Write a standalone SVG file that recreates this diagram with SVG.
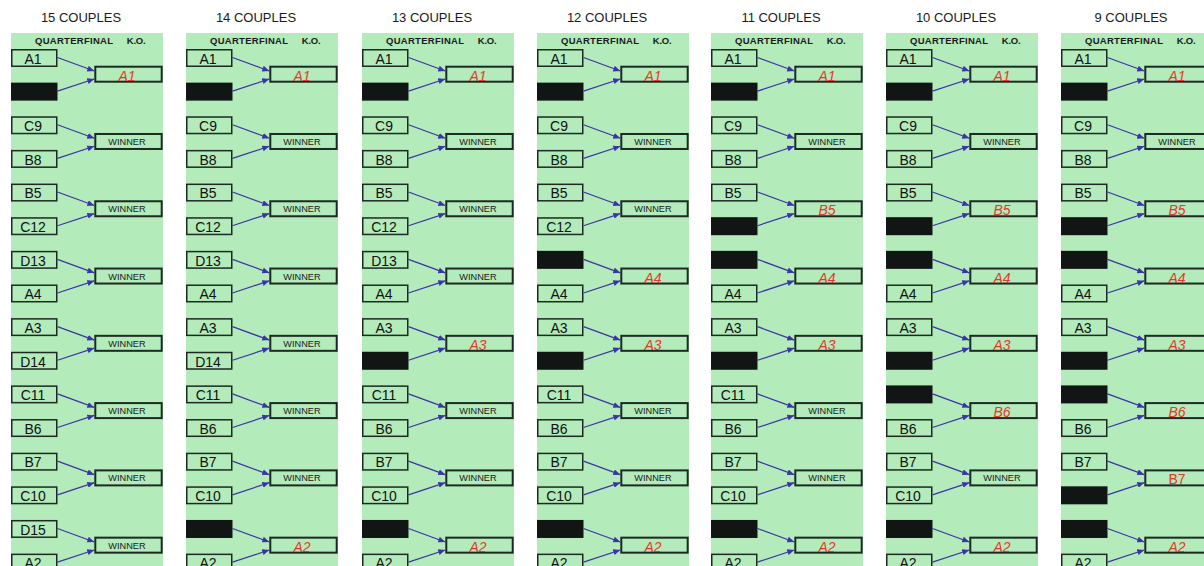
<svg xmlns="http://www.w3.org/2000/svg" width="1204" height="566" viewBox="0 0 1204 566">
<style>
.bg{fill:#ffffff}
.panel{fill:#b3ebba}
.slot{fill:#b3ebba;stroke:#1c2a22;stroke-width:1.5}
.bye{fill:#111614;stroke:#111614;stroke-width:1.5}
.res{fill:#b3ebba;stroke:#1c2a22;stroke-width:2}
.title{font-family:"Liberation Sans",Arial,sans-serif;font-size:13px;fill:#1a1a1a;text-anchor:middle}
.hdr{font-family:"Liberation Sans",Arial,sans-serif;font-size:9.5px;font-weight:bold;fill:#1a1a1a}
.lbl{font-family:"Liberation Sans",Arial,sans-serif;font-size:14px;fill:#111;text-anchor:middle}
.red{font-family:"Liberation Sans",Arial,sans-serif;font-size:14px;font-style:italic;fill:#e5372b;text-anchor:middle}
.redu{font-family:"Liberation Sans",Arial,sans-serif;font-size:14px;fill:#e5372b;text-anchor:middle}
.win{font-family:"Liberation Sans",Arial,sans-serif;font-size:9.2px;fill:#1a1a1a;text-anchor:middle}
.link{stroke:#3b33a8;stroke-width:1.2;fill:none;marker-end:url(#ah)}
</style>
<defs>
<marker id="ah" markerUnits="userSpaceOnUse" markerWidth="8" markerHeight="6" refX="7" refY="3" orient="auto"><path d="M0,0 L7,3 L0,6 z" fill="#3b33a8"/></marker>
</defs>
<rect class="bg" x="0" y="0" width="1204" height="566"/>

<!-- Column 15 -->
<g id="col15" transform="translate(11,0)">
<rect class="panel" x="0" y="33" width="152" height="540"/>
<text class="title" x="70" y="21.7">15 COUPLES</text>
<text class="hdr" x="24" y="44.3" textLength="78" lengthAdjust="spacing">QUARTERFINAL</text>
<text class="hdr" x="115.7" y="44.3" textLength="19" lengthAdjust="spacing">K.O.</text>
<g id="c15-L0"><rect class="slot" x="0.75" y="49.75" width="45" height="16.5"/><text class="lbl" x="22" y="63.8">A1</text></g>
<g id="c15-L1"><rect class="bye" x="0.75" y="83.39" width="45" height="16.5"/></g>
<g id="c15-L2"><rect class="slot" x="0.75" y="117.03" width="45" height="16.5"/><text class="lbl" x="22" y="131.08">C9</text></g>
<g id="c15-L3"><rect class="slot" x="0.75" y="150.67" width="45" height="16.5"/><text class="lbl" x="22" y="164.72">B8</text></g>
<g id="c15-L4"><rect class="slot" x="0.75" y="184.31" width="45" height="16.5"/><text class="lbl" x="22" y="198.36">B5</text></g>
<g id="c15-L5"><rect class="slot" x="0.75" y="217.95" width="45" height="16.5"/><text class="lbl" x="22" y="232">C12</text></g>
<g id="c15-L6"><rect class="slot" x="0.75" y="251.59" width="45" height="16.5"/><text class="lbl" x="22" y="265.64">D13</text></g>
<g id="c15-L7"><rect class="slot" x="0.75" y="285.23" width="45" height="16.5"/><text class="lbl" x="22" y="299.28">A4</text></g>
<g id="c15-L8"><rect class="slot" x="0.75" y="318.87" width="45" height="16.5"/><text class="lbl" x="22" y="332.92">A3</text></g>
<g id="c15-L9"><rect class="slot" x="0.75" y="352.51" width="45" height="16.5"/><text class="lbl" x="22" y="366.56">D14</text></g>
<g id="c15-L10"><rect class="slot" x="0.75" y="386.15" width="45" height="16.5"/><text class="lbl" x="22" y="400.2">C11</text></g>
<g id="c15-L11"><rect class="slot" x="0.75" y="419.79" width="45" height="16.5"/><text class="lbl" x="22" y="433.84">B6</text></g>
<g id="c15-L12"><rect class="slot" x="0.75" y="453.43" width="45" height="16.5"/><text class="lbl" x="22" y="467.48">B7</text></g>
<g id="c15-L13"><rect class="slot" x="0.75" y="487.07" width="45" height="16.5"/><text class="lbl" x="22" y="501.12">C10</text></g>
<g id="c15-L14"><rect class="slot" x="0.75" y="520.71" width="45" height="16.5"/><text class="lbl" x="22" y="534.76">D15</text></g>
<g id="c15-L15"><rect class="slot" x="0.75" y="554.35" width="45" height="16.5"/><text class="lbl" x="22" y="568.4">A2</text></g>
<g id="c15-R0"><rect class="res" x="84.3" y="66.7" width="66.4" height="15"/><text class="red" x="116" y="80.7">A1</text></g>
<g id="c15-R1"><rect class="res" x="84.3" y="133.98" width="66.4" height="15"/><text class="win" x="116" y="144.98">WINNER</text></g>
<g id="c15-R2"><rect class="res" x="84.3" y="201.26" width="66.4" height="15"/><text class="win" x="116" y="212.26">WINNER</text></g>
<g id="c15-R3"><rect class="res" x="84.3" y="268.54" width="66.4" height="15"/><text class="win" x="116" y="279.54">WINNER</text></g>
<g id="c15-R4"><rect class="res" x="84.3" y="335.82" width="66.4" height="15"/><text class="win" x="116" y="346.82">WINNER</text></g>
<g id="c15-R5"><rect class="res" x="84.3" y="403.1" width="66.4" height="15"/><text class="win" x="116" y="414.1">WINNER</text></g>
<g id="c15-R6"><rect class="res" x="84.3" y="470.38" width="66.4" height="15"/><text class="win" x="116" y="481.38">WINNER</text></g>
<g id="c15-R7"><rect class="res" x="84.3" y="537.66" width="66.4" height="15"/><text class="win" x="116" y="548.66">WINNER</text></g>
</g>

<!-- Column 14 -->
<g id="col14" transform="translate(186,0)">
<rect class="panel" x="0" y="33" width="152" height="540"/>
<text class="title" x="70" y="21.7">14 COUPLES</text>
<text class="hdr" x="24" y="44.3" textLength="78" lengthAdjust="spacing">QUARTERFINAL</text>
<text class="hdr" x="115.7" y="44.3" textLength="19" lengthAdjust="spacing">K.O.</text>
<g id="c14-L0"><rect class="slot" x="0.75" y="49.75" width="45" height="16.5"/><text class="lbl" x="22" y="63.8">A1</text></g>
<g id="c14-L1"><rect class="bye" x="0.75" y="83.39" width="45" height="16.5"/></g>
<g id="c14-L2"><rect class="slot" x="0.75" y="117.03" width="45" height="16.5"/><text class="lbl" x="22" y="131.08">C9</text></g>
<g id="c14-L3"><rect class="slot" x="0.75" y="150.67" width="45" height="16.5"/><text class="lbl" x="22" y="164.72">B8</text></g>
<g id="c14-L4"><rect class="slot" x="0.75" y="184.31" width="45" height="16.5"/><text class="lbl" x="22" y="198.36">B5</text></g>
<g id="c14-L5"><rect class="slot" x="0.75" y="217.95" width="45" height="16.5"/><text class="lbl" x="22" y="232">C12</text></g>
<g id="c14-L6"><rect class="slot" x="0.75" y="251.59" width="45" height="16.5"/><text class="lbl" x="22" y="265.64">D13</text></g>
<g id="c14-L7"><rect class="slot" x="0.75" y="285.23" width="45" height="16.5"/><text class="lbl" x="22" y="299.28">A4</text></g>
<g id="c14-L8"><rect class="slot" x="0.75" y="318.87" width="45" height="16.5"/><text class="lbl" x="22" y="332.92">A3</text></g>
<g id="c14-L9"><rect class="slot" x="0.75" y="352.51" width="45" height="16.5"/><text class="lbl" x="22" y="366.56">D14</text></g>
<g id="c14-L10"><rect class="slot" x="0.75" y="386.15" width="45" height="16.5"/><text class="lbl" x="22" y="400.2">C11</text></g>
<g id="c14-L11"><rect class="slot" x="0.75" y="419.79" width="45" height="16.5"/><text class="lbl" x="22" y="433.84">B6</text></g>
<g id="c14-L12"><rect class="slot" x="0.75" y="453.43" width="45" height="16.5"/><text class="lbl" x="22" y="467.48">B7</text></g>
<g id="c14-L13"><rect class="slot" x="0.75" y="487.07" width="45" height="16.5"/><text class="lbl" x="22" y="501.12">C10</text></g>
<g id="c14-L14"><rect class="bye" x="0.75" y="520.71" width="45" height="16.5"/></g>
<g id="c14-L15"><rect class="slot" x="0.75" y="554.35" width="45" height="16.5"/><text class="lbl" x="22" y="568.4">A2</text></g>
<g id="c14-R0"><rect class="res" x="84.3" y="66.7" width="66.4" height="15"/><text class="red" x="116" y="80.7">A1</text></g>
<g id="c14-R1"><rect class="res" x="84.3" y="133.98" width="66.4" height="15"/><text class="win" x="116" y="144.98">WINNER</text></g>
<g id="c14-R2"><rect class="res" x="84.3" y="201.26" width="66.4" height="15"/><text class="win" x="116" y="212.26">WINNER</text></g>
<g id="c14-R3"><rect class="res" x="84.3" y="268.54" width="66.4" height="15"/><text class="win" x="116" y="279.54">WINNER</text></g>
<g id="c14-R4"><rect class="res" x="84.3" y="335.82" width="66.4" height="15"/><text class="win" x="116" y="346.82">WINNER</text></g>
<g id="c14-R5"><rect class="res" x="84.3" y="403.1" width="66.4" height="15"/><text class="win" x="116" y="414.1">WINNER</text></g>
<g id="c14-R6"><rect class="res" x="84.3" y="470.38" width="66.4" height="15"/><text class="win" x="116" y="481.38">WINNER</text></g>
<g id="c14-R7"><rect class="res" x="84.3" y="537.66" width="66.4" height="15"/><text class="red" x="116" y="551.66">A2</text></g>
</g>

<!-- Column 13 -->
<g id="col13" transform="translate(362,0)">
<rect class="panel" x="0" y="33" width="152" height="540"/>
<text class="title" x="70" y="21.7">13 COUPLES</text>
<text class="hdr" x="24" y="44.3" textLength="78" lengthAdjust="spacing">QUARTERFINAL</text>
<text class="hdr" x="115.7" y="44.3" textLength="19" lengthAdjust="spacing">K.O.</text>
<g id="c13-L0"><rect class="slot" x="0.75" y="49.75" width="45" height="16.5"/><text class="lbl" x="22" y="63.8">A1</text></g>
<g id="c13-L1"><rect class="bye" x="0.75" y="83.39" width="45" height="16.5"/></g>
<g id="c13-L2"><rect class="slot" x="0.75" y="117.03" width="45" height="16.5"/><text class="lbl" x="22" y="131.08">C9</text></g>
<g id="c13-L3"><rect class="slot" x="0.75" y="150.67" width="45" height="16.5"/><text class="lbl" x="22" y="164.72">B8</text></g>
<g id="c13-L4"><rect class="slot" x="0.75" y="184.31" width="45" height="16.5"/><text class="lbl" x="22" y="198.36">B5</text></g>
<g id="c13-L5"><rect class="slot" x="0.75" y="217.95" width="45" height="16.5"/><text class="lbl" x="22" y="232">C12</text></g>
<g id="c13-L6"><rect class="slot" x="0.75" y="251.59" width="45" height="16.5"/><text class="lbl" x="22" y="265.64">D13</text></g>
<g id="c13-L7"><rect class="slot" x="0.75" y="285.23" width="45" height="16.5"/><text class="lbl" x="22" y="299.28">A4</text></g>
<g id="c13-L8"><rect class="slot" x="0.75" y="318.87" width="45" height="16.5"/><text class="lbl" x="22" y="332.92">A3</text></g>
<g id="c13-L9"><rect class="bye" x="0.75" y="352.51" width="45" height="16.5"/></g>
<g id="c13-L10"><rect class="slot" x="0.75" y="386.15" width="45" height="16.5"/><text class="lbl" x="22" y="400.2">C11</text></g>
<g id="c13-L11"><rect class="slot" x="0.75" y="419.79" width="45" height="16.5"/><text class="lbl" x="22" y="433.84">B6</text></g>
<g id="c13-L12"><rect class="slot" x="0.75" y="453.43" width="45" height="16.5"/><text class="lbl" x="22" y="467.48">B7</text></g>
<g id="c13-L13"><rect class="slot" x="0.75" y="487.07" width="45" height="16.5"/><text class="lbl" x="22" y="501.12">C10</text></g>
<g id="c13-L14"><rect class="bye" x="0.75" y="520.71" width="45" height="16.5"/></g>
<g id="c13-L15"><rect class="slot" x="0.75" y="554.35" width="45" height="16.5"/><text class="lbl" x="22" y="568.4">A2</text></g>
<g id="c13-R0"><rect class="res" x="84.3" y="66.7" width="66.4" height="15"/><text class="red" x="116" y="80.7">A1</text></g>
<g id="c13-R1"><rect class="res" x="84.3" y="133.98" width="66.4" height="15"/><text class="win" x="116" y="144.98">WINNER</text></g>
<g id="c13-R2"><rect class="res" x="84.3" y="201.26" width="66.4" height="15"/><text class="win" x="116" y="212.26">WINNER</text></g>
<g id="c13-R3"><rect class="res" x="84.3" y="268.54" width="66.4" height="15"/><text class="win" x="116" y="279.54">WINNER</text></g>
<g id="c13-R4"><rect class="res" x="84.3" y="335.82" width="66.4" height="15"/><text class="red" x="116" y="349.82">A3</text></g>
<g id="c13-R5"><rect class="res" x="84.3" y="403.1" width="66.4" height="15"/><text class="win" x="116" y="414.1">WINNER</text></g>
<g id="c13-R6"><rect class="res" x="84.3" y="470.38" width="66.4" height="15"/><text class="win" x="116" y="481.38">WINNER</text></g>
<g id="c13-R7"><rect class="res" x="84.3" y="537.66" width="66.4" height="15"/><text class="red" x="116" y="551.66">A2</text></g>
</g>

<!-- Column 12 -->
<g id="col12" transform="translate(537,0)">
<rect class="panel" x="0" y="33" width="152" height="540"/>
<text class="title" x="70" y="21.7">12 COUPLES</text>
<text class="hdr" x="24" y="44.3" textLength="78" lengthAdjust="spacing">QUARTERFINAL</text>
<text class="hdr" x="115.7" y="44.3" textLength="19" lengthAdjust="spacing">K.O.</text>
<g id="c12-L0"><rect class="slot" x="0.75" y="49.75" width="45" height="16.5"/><text class="lbl" x="22" y="63.8">A1</text></g>
<g id="c12-L1"><rect class="bye" x="0.75" y="83.39" width="45" height="16.5"/></g>
<g id="c12-L2"><rect class="slot" x="0.75" y="117.03" width="45" height="16.5"/><text class="lbl" x="22" y="131.08">C9</text></g>
<g id="c12-L3"><rect class="slot" x="0.75" y="150.67" width="45" height="16.5"/><text class="lbl" x="22" y="164.72">B8</text></g>
<g id="c12-L4"><rect class="slot" x="0.75" y="184.31" width="45" height="16.5"/><text class="lbl" x="22" y="198.36">B5</text></g>
<g id="c12-L5"><rect class="slot" x="0.75" y="217.95" width="45" height="16.5"/><text class="lbl" x="22" y="232">C12</text></g>
<g id="c12-L6"><rect class="bye" x="0.75" y="251.59" width="45" height="16.5"/></g>
<g id="c12-L7"><rect class="slot" x="0.75" y="285.23" width="45" height="16.5"/><text class="lbl" x="22" y="299.28">A4</text></g>
<g id="c12-L8"><rect class="slot" x="0.75" y="318.87" width="45" height="16.5"/><text class="lbl" x="22" y="332.92">A3</text></g>
<g id="c12-L9"><rect class="bye" x="0.75" y="352.51" width="45" height="16.5"/></g>
<g id="c12-L10"><rect class="slot" x="0.75" y="386.15" width="45" height="16.5"/><text class="lbl" x="22" y="400.2">C11</text></g>
<g id="c12-L11"><rect class="slot" x="0.75" y="419.79" width="45" height="16.5"/><text class="lbl" x="22" y="433.84">B6</text></g>
<g id="c12-L12"><rect class="slot" x="0.75" y="453.43" width="45" height="16.5"/><text class="lbl" x="22" y="467.48">B7</text></g>
<g id="c12-L13"><rect class="slot" x="0.75" y="487.07" width="45" height="16.5"/><text class="lbl" x="22" y="501.12">C10</text></g>
<g id="c12-L14"><rect class="bye" x="0.75" y="520.71" width="45" height="16.5"/></g>
<g id="c12-L15"><rect class="slot" x="0.75" y="554.35" width="45" height="16.5"/><text class="lbl" x="22" y="568.4">A2</text></g>
<g id="c12-R0"><rect class="res" x="84.3" y="66.7" width="66.4" height="15"/><text class="red" x="116" y="80.7">A1</text></g>
<g id="c12-R1"><rect class="res" x="84.3" y="133.98" width="66.4" height="15"/><text class="win" x="116" y="144.98">WINNER</text></g>
<g id="c12-R2"><rect class="res" x="84.3" y="201.26" width="66.4" height="15"/><text class="win" x="116" y="212.26">WINNER</text></g>
<g id="c12-R3"><rect class="res" x="84.3" y="268.54" width="66.4" height="15"/><text class="red" x="116" y="282.54">A4</text></g>
<g id="c12-R4"><rect class="res" x="84.3" y="335.82" width="66.4" height="15"/><text class="red" x="116" y="349.82">A3</text></g>
<g id="c12-R5"><rect class="res" x="84.3" y="403.1" width="66.4" height="15"/><text class="win" x="116" y="414.1">WINNER</text></g>
<g id="c12-R6"><rect class="res" x="84.3" y="470.38" width="66.4" height="15"/><text class="win" x="116" y="481.38">WINNER</text></g>
<g id="c12-R7"><rect class="res" x="84.3" y="537.66" width="66.4" height="15"/><text class="red" x="116" y="551.66">A2</text></g>
</g>

<!-- Column 11 -->
<g id="col11" transform="translate(711,0)">
<rect class="panel" x="0" y="33" width="152" height="540"/>
<text class="title" x="70" y="21.7">11 COUPLES</text>
<text class="hdr" x="24" y="44.3" textLength="78" lengthAdjust="spacing">QUARTERFINAL</text>
<text class="hdr" x="115.7" y="44.3" textLength="19" lengthAdjust="spacing">K.O.</text>
<g id="c11-L0"><rect class="slot" x="0.75" y="49.75" width="45" height="16.5"/><text class="lbl" x="22" y="63.8">A1</text></g>
<g id="c11-L1"><rect class="bye" x="0.75" y="83.39" width="45" height="16.5"/></g>
<g id="c11-L2"><rect class="slot" x="0.75" y="117.03" width="45" height="16.5"/><text class="lbl" x="22" y="131.08">C9</text></g>
<g id="c11-L3"><rect class="slot" x="0.75" y="150.67" width="45" height="16.5"/><text class="lbl" x="22" y="164.72">B8</text></g>
<g id="c11-L4"><rect class="slot" x="0.75" y="184.31" width="45" height="16.5"/><text class="lbl" x="22" y="198.36">B5</text></g>
<g id="c11-L5"><rect class="bye" x="0.75" y="217.95" width="45" height="16.5"/></g>
<g id="c11-L6"><rect class="bye" x="0.75" y="251.59" width="45" height="16.5"/></g>
<g id="c11-L7"><rect class="slot" x="0.75" y="285.23" width="45" height="16.5"/><text class="lbl" x="22" y="299.28">A4</text></g>
<g id="c11-L8"><rect class="slot" x="0.75" y="318.87" width="45" height="16.5"/><text class="lbl" x="22" y="332.92">A3</text></g>
<g id="c11-L9"><rect class="bye" x="0.75" y="352.51" width="45" height="16.5"/></g>
<g id="c11-L10"><rect class="slot" x="0.75" y="386.15" width="45" height="16.5"/><text class="lbl" x="22" y="400.2">C11</text></g>
<g id="c11-L11"><rect class="slot" x="0.75" y="419.79" width="45" height="16.5"/><text class="lbl" x="22" y="433.84">B6</text></g>
<g id="c11-L12"><rect class="slot" x="0.75" y="453.43" width="45" height="16.5"/><text class="lbl" x="22" y="467.48">B7</text></g>
<g id="c11-L13"><rect class="slot" x="0.75" y="487.07" width="45" height="16.5"/><text class="lbl" x="22" y="501.12">C10</text></g>
<g id="c11-L14"><rect class="bye" x="0.75" y="520.71" width="45" height="16.5"/></g>
<g id="c11-L15"><rect class="slot" x="0.75" y="554.35" width="45" height="16.5"/><text class="lbl" x="22" y="568.4">A2</text></g>
<g id="c11-R0"><rect class="res" x="84.3" y="66.7" width="66.4" height="15"/><text class="red" x="116" y="80.7">A1</text></g>
<g id="c11-R1"><rect class="res" x="84.3" y="133.98" width="66.4" height="15"/><text class="win" x="116" y="144.98">WINNER</text></g>
<g id="c11-R2"><rect class="res" x="84.3" y="201.26" width="66.4" height="15"/><text class="red" x="116" y="215.26">B5</text></g>
<g id="c11-R3"><rect class="res" x="84.3" y="268.54" width="66.4" height="15"/><text class="red" x="116" y="282.54">A4</text></g>
<g id="c11-R4"><rect class="res" x="84.3" y="335.82" width="66.4" height="15"/><text class="red" x="116" y="349.82">A3</text></g>
<g id="c11-R5"><rect class="res" x="84.3" y="403.1" width="66.4" height="15"/><text class="win" x="116" y="414.1">WINNER</text></g>
<g id="c11-R6"><rect class="res" x="84.3" y="470.38" width="66.4" height="15"/><text class="win" x="116" y="481.38">WINNER</text></g>
<g id="c11-R7"><rect class="res" x="84.3" y="537.66" width="66.4" height="15"/><text class="red" x="116" y="551.66">A2</text></g>
</g>

<!-- Column 10 -->
<g id="col10" transform="translate(886,0)">
<rect class="panel" x="0" y="33" width="152" height="540"/>
<text class="title" x="70" y="21.7">10 COUPLES</text>
<text class="hdr" x="24" y="44.3" textLength="78" lengthAdjust="spacing">QUARTERFINAL</text>
<text class="hdr" x="115.7" y="44.3" textLength="19" lengthAdjust="spacing">K.O.</text>
<g id="c10-L0"><rect class="slot" x="0.75" y="49.75" width="45" height="16.5"/><text class="lbl" x="22" y="63.8">A1</text></g>
<g id="c10-L1"><rect class="bye" x="0.75" y="83.39" width="45" height="16.5"/></g>
<g id="c10-L2"><rect class="slot" x="0.75" y="117.03" width="45" height="16.5"/><text class="lbl" x="22" y="131.08">C9</text></g>
<g id="c10-L3"><rect class="slot" x="0.75" y="150.67" width="45" height="16.5"/><text class="lbl" x="22" y="164.72">B8</text></g>
<g id="c10-L4"><rect class="slot" x="0.75" y="184.31" width="45" height="16.5"/><text class="lbl" x="22" y="198.36">B5</text></g>
<g id="c10-L5"><rect class="bye" x="0.75" y="217.95" width="45" height="16.5"/></g>
<g id="c10-L6"><rect class="bye" x="0.75" y="251.59" width="45" height="16.5"/></g>
<g id="c10-L7"><rect class="slot" x="0.75" y="285.23" width="45" height="16.5"/><text class="lbl" x="22" y="299.28">A4</text></g>
<g id="c10-L8"><rect class="slot" x="0.75" y="318.87" width="45" height="16.5"/><text class="lbl" x="22" y="332.92">A3</text></g>
<g id="c10-L9"><rect class="bye" x="0.75" y="352.51" width="45" height="16.5"/></g>
<g id="c10-L10"><rect class="bye" x="0.75" y="386.15" width="45" height="16.5"/></g>
<g id="c10-L11"><rect class="slot" x="0.75" y="419.79" width="45" height="16.5"/><text class="lbl" x="22" y="433.84">B6</text></g>
<g id="c10-L12"><rect class="slot" x="0.75" y="453.43" width="45" height="16.5"/><text class="lbl" x="22" y="467.48">B7</text></g>
<g id="c10-L13"><rect class="slot" x="0.75" y="487.07" width="45" height="16.5"/><text class="lbl" x="22" y="501.12">C10</text></g>
<g id="c10-L14"><rect class="bye" x="0.75" y="520.71" width="45" height="16.5"/></g>
<g id="c10-L15"><rect class="slot" x="0.75" y="554.35" width="45" height="16.5"/><text class="lbl" x="22" y="568.4">A2</text></g>
<g id="c10-R0"><rect class="res" x="84.3" y="66.7" width="66.4" height="15"/><text class="red" x="116" y="80.7">A1</text></g>
<g id="c10-R1"><rect class="res" x="84.3" y="133.98" width="66.4" height="15"/><text class="win" x="116" y="144.98">WINNER</text></g>
<g id="c10-R2"><rect class="res" x="84.3" y="201.26" width="66.4" height="15"/><text class="red" x="116" y="215.26">B5</text></g>
<g id="c10-R3"><rect class="res" x="84.3" y="268.54" width="66.4" height="15"/><text class="red" x="116" y="282.54">A4</text></g>
<g id="c10-R4"><rect class="res" x="84.3" y="335.82" width="66.4" height="15"/><text class="red" x="116" y="349.82">A3</text></g>
<g id="c10-R5"><rect class="res" x="84.3" y="403.1" width="66.4" height="15"/><text class="red" x="116" y="417.1">B6</text></g>
<g id="c10-R6"><rect class="res" x="84.3" y="470.38" width="66.4" height="15"/><text class="win" x="116" y="481.38">WINNER</text></g>
<g id="c10-R7"><rect class="res" x="84.3" y="537.66" width="66.4" height="15"/><text class="red" x="116" y="551.66">A2</text></g>
</g>

<!-- Column 9 -->
<g id="col9" transform="translate(1061,0)">
<rect class="panel" x="0" y="33" width="152" height="540"/>
<text class="title" x="70" y="21.7">9 COUPLES</text>
<text class="hdr" x="24" y="44.3" textLength="78" lengthAdjust="spacing">QUARTERFINAL</text>
<text class="hdr" x="115.7" y="44.3" textLength="19" lengthAdjust="spacing">K.O.</text>
<g id="c9-L0"><rect class="slot" x="0.75" y="49.75" width="45" height="16.5"/><text class="lbl" x="22" y="63.8">A1</text></g>
<g id="c9-L1"><rect class="bye" x="0.75" y="83.39" width="45" height="16.5"/></g>
<g id="c9-L2"><rect class="slot" x="0.75" y="117.03" width="45" height="16.5"/><text class="lbl" x="22" y="131.08">C9</text></g>
<g id="c9-L3"><rect class="slot" x="0.75" y="150.67" width="45" height="16.5"/><text class="lbl" x="22" y="164.72">B8</text></g>
<g id="c9-L4"><rect class="slot" x="0.75" y="184.31" width="45" height="16.5"/><text class="lbl" x="22" y="198.36">B5</text></g>
<g id="c9-L5"><rect class="bye" x="0.75" y="217.95" width="45" height="16.5"/></g>
<g id="c9-L6"><rect class="bye" x="0.75" y="251.59" width="45" height="16.5"/></g>
<g id="c9-L7"><rect class="slot" x="0.75" y="285.23" width="45" height="16.5"/><text class="lbl" x="22" y="299.28">A4</text></g>
<g id="c9-L8"><rect class="slot" x="0.75" y="318.87" width="45" height="16.5"/><text class="lbl" x="22" y="332.92">A3</text></g>
<g id="c9-L9"><rect class="bye" x="0.75" y="352.51" width="45" height="16.5"/></g>
<g id="c9-L10"><rect class="bye" x="0.75" y="386.15" width="45" height="16.5"/></g>
<g id="c9-L11"><rect class="slot" x="0.75" y="419.79" width="45" height="16.5"/><text class="lbl" x="22" y="433.84">B6</text></g>
<g id="c9-L12"><rect class="slot" x="0.75" y="453.43" width="45" height="16.5"/><text class="lbl" x="22" y="467.48">B7</text></g>
<g id="c9-L13"><rect class="bye" x="0.75" y="487.07" width="45" height="16.5"/></g>
<g id="c9-L14"><rect class="bye" x="0.75" y="520.71" width="45" height="16.5"/></g>
<g id="c9-L15"><rect class="slot" x="0.75" y="554.35" width="45" height="16.5"/><text class="lbl" x="22" y="568.4">A2</text></g>
<g id="c9-R0"><rect class="res" x="84.3" y="66.7" width="66.4" height="15"/><text class="red" x="116" y="80.7">A1</text></g>
<g id="c9-R1"><rect class="res" x="84.3" y="133.98" width="66.4" height="15"/><text class="win" x="116" y="144.98">WINNER</text></g>
<g id="c9-R2"><rect class="res" x="84.3" y="201.26" width="66.4" height="15"/><text class="red" x="116" y="215.26">B5</text></g>
<g id="c9-R3"><rect class="res" x="84.3" y="268.54" width="66.4" height="15"/><text class="red" x="116" y="282.54">A4</text></g>
<g id="c9-R4"><rect class="res" x="84.3" y="335.82" width="66.4" height="15"/><text class="red" x="116" y="349.82">A3</text></g>
<g id="c9-R5"><rect class="res" x="84.3" y="403.1" width="66.4" height="15"/><text class="red" x="116" y="417.1">B6</text></g>
<g id="c9-R6"><rect class="res" x="84.3" y="470.38" width="66.4" height="15"/><text class="redu" x="116" y="484.38">B7</text></g>
<g id="c9-R7"><rect class="res" x="84.3" y="537.66" width="66.4" height="15"/><text class="red" x="116" y="551.66">A2</text></g>
</g>

<!-- Connectors -->
<g id="connectors">
<g id="links15" transform="translate(11,0)">
<line class="link" x1="46.5" y1="57.5" x2="83.3" y2="71"/><line class="link" x1="46.5" y1="91.14" x2="83.3" y2="79"/>
<line class="link" x1="46.5" y1="124.78" x2="83.3" y2="138.28"/><line class="link" x1="46.5" y1="158.42" x2="83.3" y2="146.28"/>
<line class="link" x1="46.5" y1="192.06" x2="83.3" y2="205.56"/><line class="link" x1="46.5" y1="225.7" x2="83.3" y2="213.56"/>
<line class="link" x1="46.5" y1="259.34" x2="83.3" y2="272.84"/><line class="link" x1="46.5" y1="292.98" x2="83.3" y2="280.84"/>
<line class="link" x1="46.5" y1="326.62" x2="83.3" y2="340.12"/><line class="link" x1="46.5" y1="360.26" x2="83.3" y2="348.12"/>
<line class="link" x1="46.5" y1="393.9" x2="83.3" y2="407.4"/><line class="link" x1="46.5" y1="427.54" x2="83.3" y2="415.4"/>
<line class="link" x1="46.5" y1="461.18" x2="83.3" y2="474.68"/><line class="link" x1="46.5" y1="494.82" x2="83.3" y2="482.68"/>
<line class="link" x1="46.5" y1="528.46" x2="83.3" y2="541.96"/><line class="link" x1="46.5" y1="562.1" x2="83.3" y2="549.96"/>
</g>
<g id="links14" transform="translate(186,0)">
<line class="link" x1="46.5" y1="57.5" x2="83.3" y2="71"/><line class="link" x1="46.5" y1="91.14" x2="83.3" y2="79"/>
<line class="link" x1="46.5" y1="124.78" x2="83.3" y2="138.28"/><line class="link" x1="46.5" y1="158.42" x2="83.3" y2="146.28"/>
<line class="link" x1="46.5" y1="192.06" x2="83.3" y2="205.56"/><line class="link" x1="46.5" y1="225.7" x2="83.3" y2="213.56"/>
<line class="link" x1="46.5" y1="259.34" x2="83.3" y2="272.84"/><line class="link" x1="46.5" y1="292.98" x2="83.3" y2="280.84"/>
<line class="link" x1="46.5" y1="326.62" x2="83.3" y2="340.12"/><line class="link" x1="46.5" y1="360.26" x2="83.3" y2="348.12"/>
<line class="link" x1="46.5" y1="393.9" x2="83.3" y2="407.4"/><line class="link" x1="46.5" y1="427.54" x2="83.3" y2="415.4"/>
<line class="link" x1="46.5" y1="461.18" x2="83.3" y2="474.68"/><line class="link" x1="46.5" y1="494.82" x2="83.3" y2="482.68"/>
<line class="link" x1="46.5" y1="528.46" x2="83.3" y2="541.96"/><line class="link" x1="46.5" y1="562.1" x2="83.3" y2="549.96"/>
</g>
<g id="links13" transform="translate(362,0)">
<line class="link" x1="46.5" y1="57.5" x2="83.3" y2="71"/><line class="link" x1="46.5" y1="91.14" x2="83.3" y2="79"/>
<line class="link" x1="46.5" y1="124.78" x2="83.3" y2="138.28"/><line class="link" x1="46.5" y1="158.42" x2="83.3" y2="146.28"/>
<line class="link" x1="46.5" y1="192.06" x2="83.3" y2="205.56"/><line class="link" x1="46.5" y1="225.7" x2="83.3" y2="213.56"/>
<line class="link" x1="46.5" y1="259.34" x2="83.3" y2="272.84"/><line class="link" x1="46.5" y1="292.98" x2="83.3" y2="280.84"/>
<line class="link" x1="46.5" y1="326.62" x2="83.3" y2="340.12"/><line class="link" x1="46.5" y1="360.26" x2="83.3" y2="348.12"/>
<line class="link" x1="46.5" y1="393.9" x2="83.3" y2="407.4"/><line class="link" x1="46.5" y1="427.54" x2="83.3" y2="415.4"/>
<line class="link" x1="46.5" y1="461.18" x2="83.3" y2="474.68"/><line class="link" x1="46.5" y1="494.82" x2="83.3" y2="482.68"/>
<line class="link" x1="46.5" y1="528.46" x2="83.3" y2="541.96"/><line class="link" x1="46.5" y1="562.1" x2="83.3" y2="549.96"/>
</g>
<g id="links12" transform="translate(537,0)">
<line class="link" x1="46.5" y1="57.5" x2="83.3" y2="71"/><line class="link" x1="46.5" y1="91.14" x2="83.3" y2="79"/>
<line class="link" x1="46.5" y1="124.78" x2="83.3" y2="138.28"/><line class="link" x1="46.5" y1="158.42" x2="83.3" y2="146.28"/>
<line class="link" x1="46.5" y1="192.06" x2="83.3" y2="205.56"/><line class="link" x1="46.5" y1="225.7" x2="83.3" y2="213.56"/>
<line class="link" x1="46.5" y1="259.34" x2="83.3" y2="272.84"/><line class="link" x1="46.5" y1="292.98" x2="83.3" y2="280.84"/>
<line class="link" x1="46.5" y1="326.62" x2="83.3" y2="340.12"/><line class="link" x1="46.5" y1="360.26" x2="83.3" y2="348.12"/>
<line class="link" x1="46.5" y1="393.9" x2="83.3" y2="407.4"/><line class="link" x1="46.5" y1="427.54" x2="83.3" y2="415.4"/>
<line class="link" x1="46.5" y1="461.18" x2="83.3" y2="474.68"/><line class="link" x1="46.5" y1="494.82" x2="83.3" y2="482.68"/>
<line class="link" x1="46.5" y1="528.46" x2="83.3" y2="541.96"/><line class="link" x1="46.5" y1="562.1" x2="83.3" y2="549.96"/>
</g>
<g id="links11" transform="translate(711,0)">
<line class="link" x1="46.5" y1="57.5" x2="83.3" y2="71"/><line class="link" x1="46.5" y1="91.14" x2="83.3" y2="79"/>
<line class="link" x1="46.5" y1="124.78" x2="83.3" y2="138.28"/><line class="link" x1="46.5" y1="158.42" x2="83.3" y2="146.28"/>
<line class="link" x1="46.5" y1="192.06" x2="83.3" y2="205.56"/><line class="link" x1="46.5" y1="225.7" x2="83.3" y2="213.56"/>
<line class="link" x1="46.5" y1="259.34" x2="83.3" y2="272.84"/><line class="link" x1="46.5" y1="292.98" x2="83.3" y2="280.84"/>
<line class="link" x1="46.5" y1="326.62" x2="83.3" y2="340.12"/><line class="link" x1="46.5" y1="360.26" x2="83.3" y2="348.12"/>
<line class="link" x1="46.5" y1="393.9" x2="83.3" y2="407.4"/><line class="link" x1="46.5" y1="427.54" x2="83.3" y2="415.4"/>
<line class="link" x1="46.5" y1="461.18" x2="83.3" y2="474.68"/><line class="link" x1="46.5" y1="494.82" x2="83.3" y2="482.68"/>
<line class="link" x1="46.5" y1="528.46" x2="83.3" y2="541.96"/><line class="link" x1="46.5" y1="562.1" x2="83.3" y2="549.96"/>
</g>
<g id="links10" transform="translate(886,0)">
<line class="link" x1="46.5" y1="57.5" x2="83.3" y2="71"/><line class="link" x1="46.5" y1="91.14" x2="83.3" y2="79"/>
<line class="link" x1="46.5" y1="124.78" x2="83.3" y2="138.28"/><line class="link" x1="46.5" y1="158.42" x2="83.3" y2="146.28"/>
<line class="link" x1="46.5" y1="192.06" x2="83.3" y2="205.56"/><line class="link" x1="46.5" y1="225.7" x2="83.3" y2="213.56"/>
<line class="link" x1="46.5" y1="259.34" x2="83.3" y2="272.84"/><line class="link" x1="46.5" y1="292.98" x2="83.3" y2="280.84"/>
<line class="link" x1="46.5" y1="326.62" x2="83.3" y2="340.12"/><line class="link" x1="46.5" y1="360.26" x2="83.3" y2="348.12"/>
<line class="link" x1="46.5" y1="393.9" x2="83.3" y2="407.4"/><line class="link" x1="46.5" y1="427.54" x2="83.3" y2="415.4"/>
<line class="link" x1="46.5" y1="461.18" x2="83.3" y2="474.68"/><line class="link" x1="46.5" y1="494.82" x2="83.3" y2="482.68"/>
<line class="link" x1="46.5" y1="528.46" x2="83.3" y2="541.96"/><line class="link" x1="46.5" y1="562.1" x2="83.3" y2="549.96"/>
</g>
<g id="links9" transform="translate(1061,0)">
<line class="link" x1="46.5" y1="57.5" x2="83.3" y2="71"/><line class="link" x1="46.5" y1="91.14" x2="83.3" y2="79"/>
<line class="link" x1="46.5" y1="124.78" x2="83.3" y2="138.28"/><line class="link" x1="46.5" y1="158.42" x2="83.3" y2="146.28"/>
<line class="link" x1="46.5" y1="192.06" x2="83.3" y2="205.56"/><line class="link" x1="46.5" y1="225.7" x2="83.3" y2="213.56"/>
<line class="link" x1="46.5" y1="259.34" x2="83.3" y2="272.84"/><line class="link" x1="46.5" y1="292.98" x2="83.3" y2="280.84"/>
<line class="link" x1="46.5" y1="326.62" x2="83.3" y2="340.12"/><line class="link" x1="46.5" y1="360.26" x2="83.3" y2="348.12"/>
<line class="link" x1="46.5" y1="393.9" x2="83.3" y2="407.4"/><line class="link" x1="46.5" y1="427.54" x2="83.3" y2="415.4"/>
<line class="link" x1="46.5" y1="461.18" x2="83.3" y2="474.68"/><line class="link" x1="46.5" y1="494.82" x2="83.3" y2="482.68"/>
<line class="link" x1="46.5" y1="528.46" x2="83.3" y2="541.96"/><line class="link" x1="46.5" y1="562.1" x2="83.3" y2="549.96"/>
</g>
</g>
</svg>
